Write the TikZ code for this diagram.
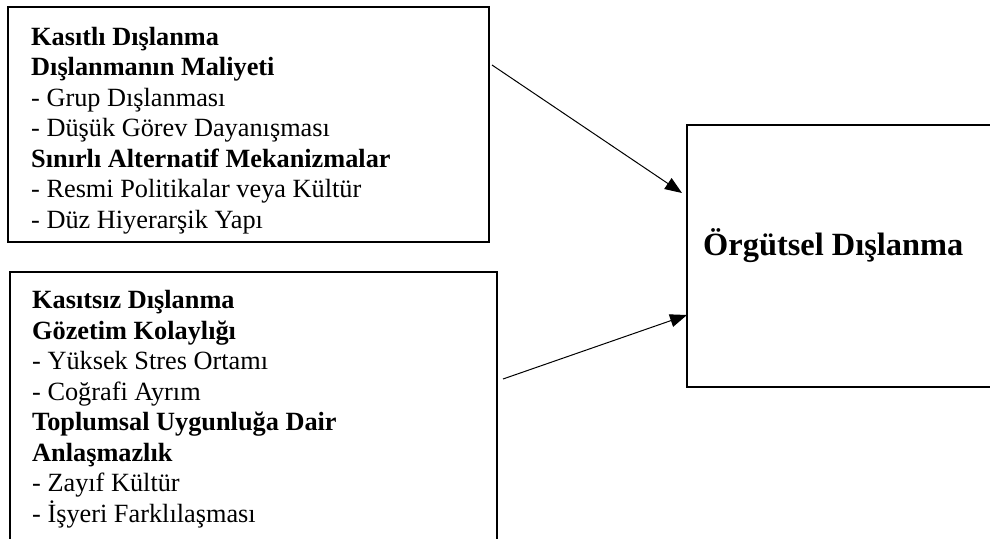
\documentclass[tikz,border=0pt]{standalone}
\usepackage{fontspec}
\setmainfont{Liberation Serif}
\usetikzlibrary{arrows.meta}
\begin{document}
\begin{tikzpicture}[x=1pt,y=-1pt,
  boxframe/.style={draw=black,line width=2pt},
  boxtext/.style={anchor=base west,align=left,inner sep=0pt,font=\fontsize{26.3}{30.5}\selectfont},
  titletext/.style={anchor=base west,inner sep=0pt,font=\fontsize{32.4}{38}\selectfont\bfseries},
  conn/.style={line width=1pt,-{Triangle[length=17pt,width=13pt]}}]
\useasboundingbox (0,0) rectangle (990,538);
\clip (0,0) rectangle (990,538);
\fill[white] (0,0) rectangle (990,538);
% boxes
\draw[boxframe] (8,7) rectangle (489,242);
\draw[boxframe] (10,272) rectangle (497,560);
\draw[boxframe] (687,125) rectangle (1000,387);
% multi-line nodes: base anchor = baseline of last line
\node[boxtext] (t1) at (31,228) {\textbf{Kasıtlı Dışlanma}\\
\textbf{Dışlanmanın Maliyeti}\\
- Grup Dışlanması\\
- Düşük Görev Dayanışması\\
\textbf{Sınırlı Alternatif Mekanizmalar}\\
- Resmi Politikalar veya Kültür\\
- Düz Hiyerarşik Yapı};
\node[boxtext] (t2) at (32,522) {\textbf{Kasıtsız Dışlanma}\\
\textbf{Gözetim Kolaylığı}\\
- Yüksek Stres Ortamı\\
- Coğrafi Ayrım\\
\textbf{Toplumsal Uygunluğa Dair}\\
\textbf{Anlaşmazlık}\\
- Zayıf Kültür\\
- İşyeri Farklılaşması};
\node[titletext] (t3) at (703,255) {Örgütsel Dışlanma};
\coordinate (s1) at (492,65);
\coordinate (e1) at (682,193);
\coordinate (s2) at (503,379);
\coordinate (e2) at (687,315);
\draw[conn] (s1) -- (e1);
\draw[conn] (s2) -- (e2);
\end{tikzpicture}
\end{document}
